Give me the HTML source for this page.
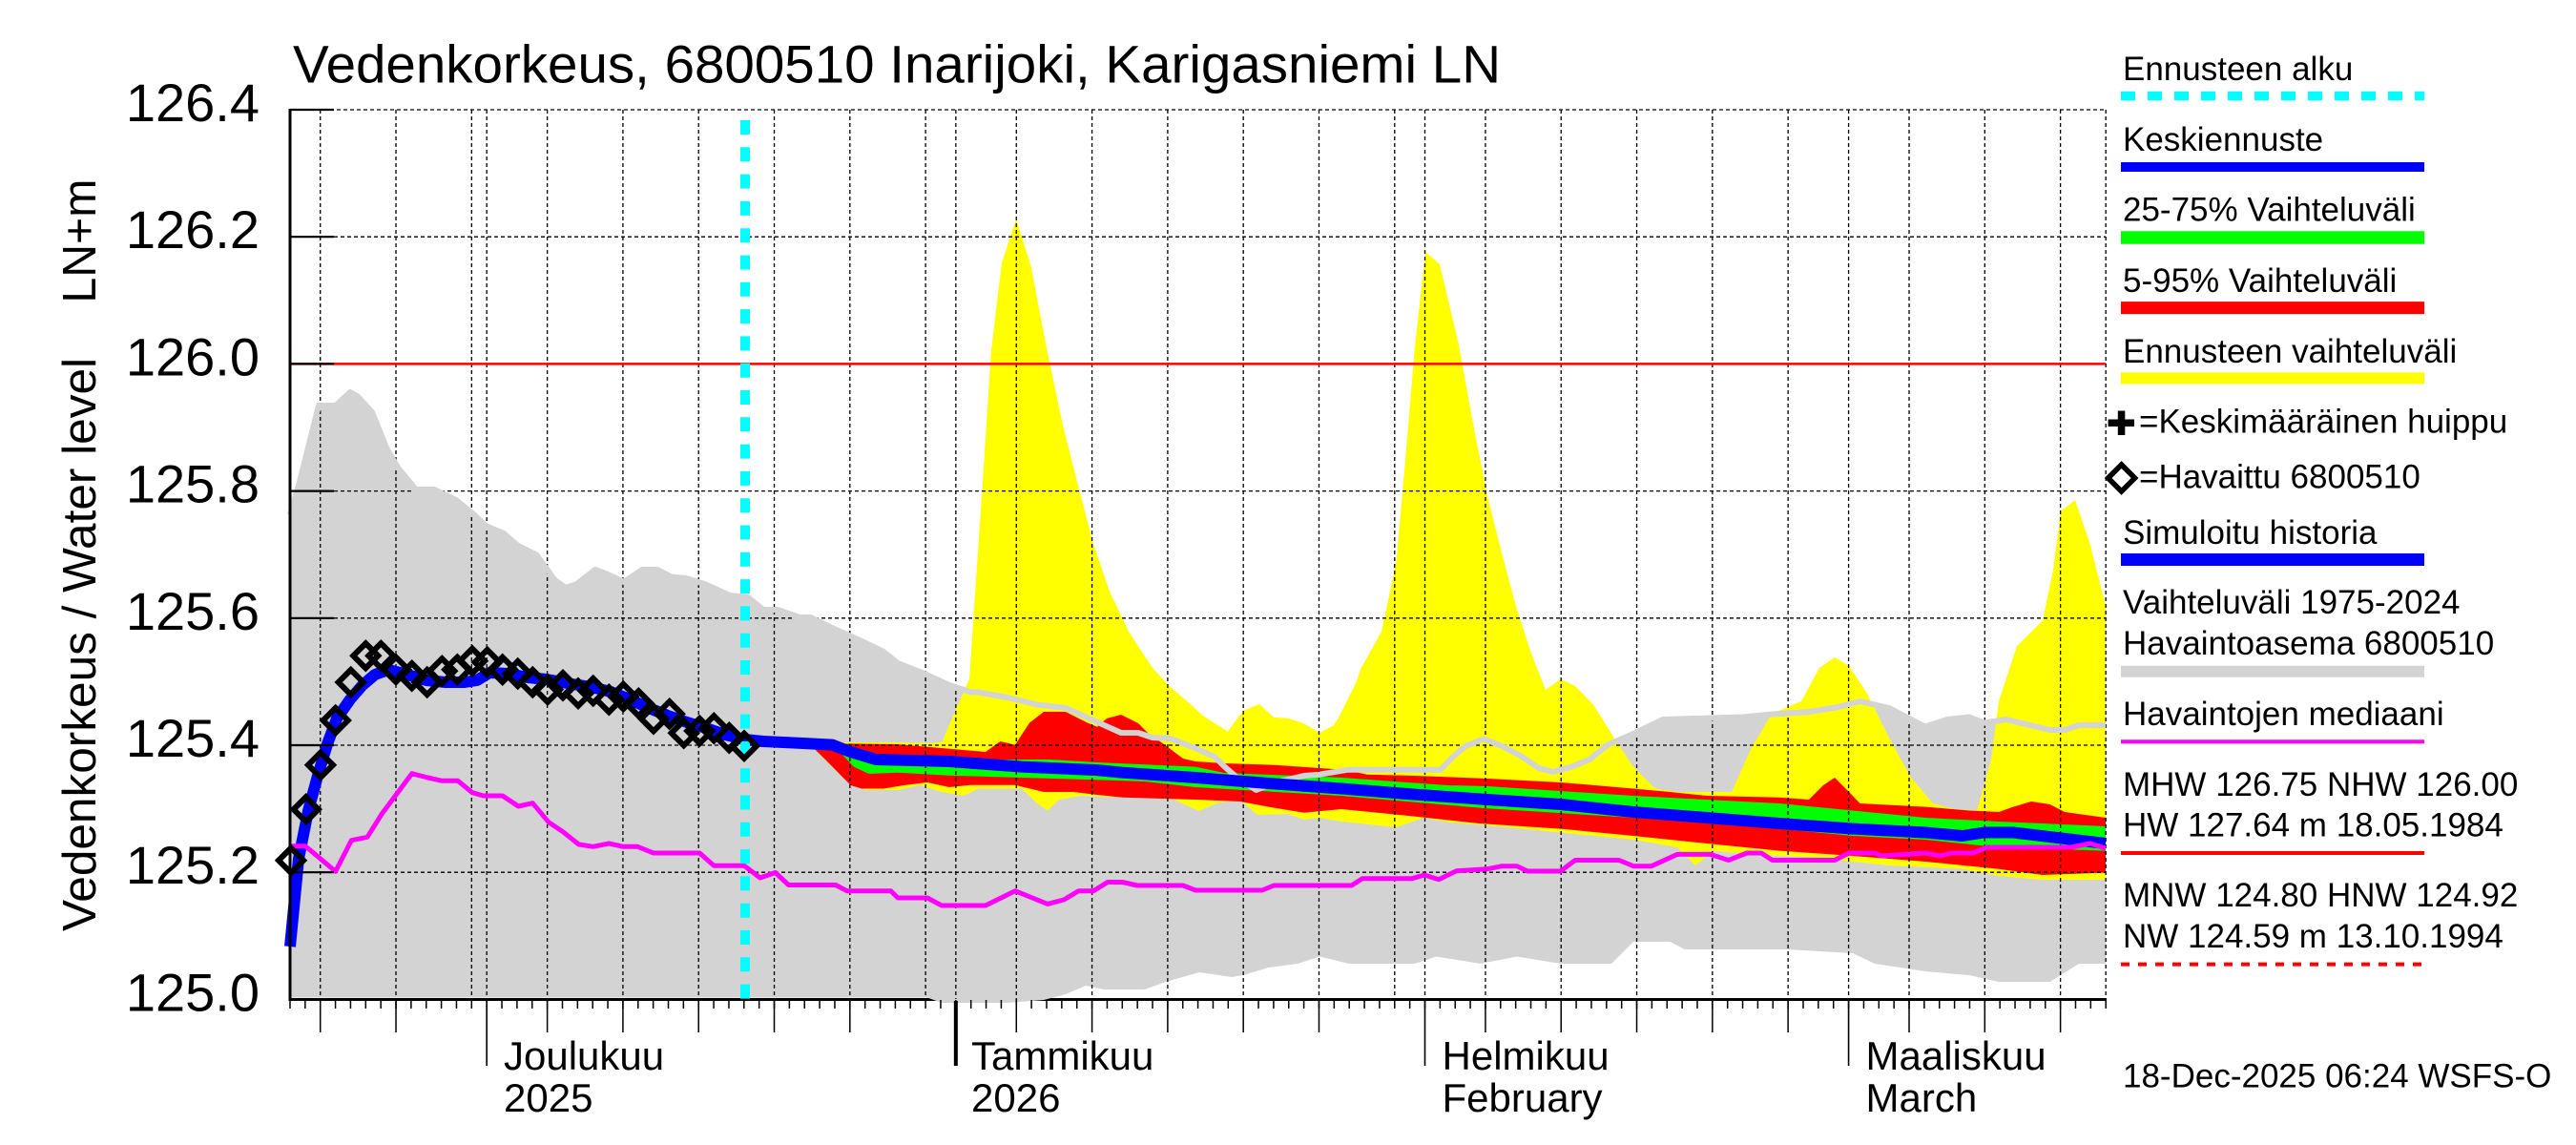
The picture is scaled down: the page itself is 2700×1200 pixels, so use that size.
<!DOCTYPE html>
<html><head><meta charset="utf-8"><style>
html,body{margin:0;padding:0;background:#fff}
svg{display:block}
text{font-family:"Liberation Sans",Arial,sans-serif;fill:#000}
</style></head><body>
<svg width="2700" height="1200" viewBox="0 0 2700 1200" xmlns="http://www.w3.org/2000/svg">
<rect x="0" y="0" width="2700" height="1200" fill="#fff"/>

<!-- bottom axis line (under gray fill) -->
<line x1="302.5" y1="1047.5" x2="2208" y2="1047.5" stroke="#000" stroke-width="3"/>

<!-- gray historical range fill -->
<polygon fill="#d3d3d3" points="304,539.5 314,505 334,425 352,425 367,411 375,415.5 390,432 405.6,470.6 417,490 436,513 455,513 478,524 497,539.5 509,551 528,559 543,572 562.5,581.6 581.6,608 593,616 604.6,612 623.7,597 635,601 654,610 673,597 689,597 704,604.6 719,606 738.5,612 765,624 784,626 800,639 815,639 838,647 849.5,647 872,658 899,670 926,683 941,695 968,705.6 995,718 1018,725.5 1025.5,725.5 1056,731 1087,738.5 1117,742 1150,756.7 1175,768 1193,768 1208,773 1226.7,774 1250,783 1273,793 1283,803 1296.7,815 1316.7,828 1336.7,820 1366.7,813 1383,811.7 1413,806.7 1510,806.7 1523,793 1536,782 1555,774.5 1574.5,782 1593.6,792 1613,805 1628,809 1647,803.6 1666,796 1685,780.6 1712,769 1743,754 1827,751.5 1857.6,748.5 1896,746 1926.5,741 1949.5,735 1980,742 2003,754 2018,761.5 2041,754 2064,751.5 2079.6,757.6 2102.5,754 2148.5,765 2164,765 2179,760 2207,760 2207,1010 2179,1010 2148.5,1029 2095,1029 2064,1022 2018,1018 1965,1010 1942,999 1873,995 1766,995 1750.5,987 1712,987 1689,1010 1635.7,1010 1590,1002.5 1551.5,1010 1505.6,1002.5 1482.6,1010 1414,1010 1383,1002.5 1360,1010 1329.6,1014 1303,1022 1291,1024 1257,1019 1222,1029 1199.5,1037 1157,1037 1138,1033 1117,1042 1094,1048 1056,1051 987,1051 972,1045.5 304,1045.5"/>

<!-- yellow forecast range -->
<polygon fill="#ffff00" points="780,777 849.5,778 940,778 970,779 987,778 1002.5,742 1016,711.7 1021.7,627.5 1029,520 1039,367 1050,275.5 1065,229.6 1080.6,279 1096,359.7 1113.5,443.9 1131,512.7 1146,570 1163,620 1183,662 1200,688 1208,700 1226.7,720 1250,740 1260.7,750 1286.7,766.7 1303,745 1320,738 1335,751.7 1350,752.7 1366.7,758.3 1383,768 1398,760 1402,754 1421.4,715.5 1426.7,700 1448,662 1463.5,589 1475,459 1482.6,367 1494,264 1509,277 1528.6,359.7 1544,444 1559,520 1574.5,581.6 1590,639 1605,685 1620,723 1635.7,711.7 1651,719 1670,738.5 1689,769 1712,803.6 1735,826.5 1760,830 1815,830 1835,785 1857,748 1888,735 1907,700 1923,689 1938,698 1957,727 1980,773 2003,815 2026,842 2049,848 2072,849.5 2087,796 2095,735 2114,677 2141,650.5 2152,597 2160,535.7 2175,524 2190.6,570 2207,635 2207,922 2141,922 2095,918 2057,910.7 1980,907 1903.6,899 1835,895.4 1796,891.6 1777,907 1758,888 1712,880 1635.7,872.5 1559,865 1520,862 1493,857 1463,867 1406,861 1383,857 1367,859 1350,853 1318,854 1299,838 1275,842 1256.7,850 1230,838 1200,836 1150,835 1133,834 1110,838 1098,849.5 1087,842 1071,826.5 1025.5,826.5 1010,834 987,830 964,822.7 941,828 907,828 887.7,819 849.5,781 780,777"/>

<!-- red 5-95% -->
<polygon fill="#ff0000" points="780,777 849.5,779 940,780 1033,788 1048.5,777 1064,780.6 1079,757.6 1094,746 1117,746 1140,757.6 1150,761.7 1160,753 1175,749 1193,758 1203,768 1220,780 1240,795 1253,798 1283,800 1336.7,801.7 1383,805 1410,806.7 1433,811.7 1482.6,813 1559,816 1635.7,820 1712,826.5 1750.5,830 1789,834 1865,835.7 1896,838 1911,823 1923,815 1938,830 1949.5,842 2018,845.6 2064,849.5 2095,851 2110,845.6 2129,840 2148.5,843 2164,851 2207,857 2207,914.5 2141,917 2095,910.7 2018,903 1942,897 1865,891.6 1789,884 1712,876 1635.7,868.6 1550,863 1482.6,855.6 1406,848 1366.7,851.7 1329.6,845.6 1300,840 1253,838 1176.5,835.7 1150,833 1125,830 1094,830 1064,822.7 1018,822.7 995,825 972,820 949,822.7 926,826.5 903,826.5 891.6,823 865,796 849.5,781 780,777"/>

<!-- green 25-75% -->
<polygon fill="#00ff00" points="780,777 849.5,779 880,784 895,788 918,792 995,796 1100,796 1150,799 1253,803.6 1283,810 1406,815 1516.7,823 1559,824 1712,834 1865,842 1942,849.5 2018,857 2095,861 2207,866 2207,891.6 2095,888 2018,880 1942,876 1865,868.6 1712,857 1555,847 1406,834 1253,825 1200,819 1148,817.3 1071,815 995,812.7 941,809.7 910.7,811 895,803.6 880,788 849.5,781 780,777"/>

<!-- grid -->
<g stroke="#000" stroke-width="1.3" stroke-dasharray="4,3" fill="none">
<path d="M304,115H2207 M350,248.2H2207 M350,514.6H2207 M350,647.8H2207 M350,781H2207 M350,914.2H2207 M350,381.4H2207"/>
<path d="M335.72,115V1047 M415.02,115V1047 M494.32,115V1047 M510.18,115V1047 M573.62,115V1047 M652.92,115V1047 M732.22,115V1047 M811.52,115V1047 M890.82,115V1047 M970.12,115V1047 M1001.84,115V1047 M1065.28,115V1047 M1144.58,115V1047 M1223.88,115V1047 M1303.18,115V1047 M1382.48,115V1047 M1461.78,115V1047 M1493.5,115V1047 M1556.94,115V1047 M1636.24,115V1047 M1715.54,115V1047 M1794.84,115V1047 M1874.14,115V1047 M1937.58,115V1047 M2001.02,115V1047 M2080.32,115V1047 M2159.62,115V1047 M2207.2,115V1047"/>
</g>

<!-- gray upper boundary line -->
<polyline fill="none" stroke="#d3d3d3" stroke-width="6" stroke-linejoin="round" points="304,539.5 314,505 334,425 352,425 367,411 375,415.5 390,432 405.6,470.6 417,490 436,513 455,513 478,524 497,539.5 509,551 528,559 543,572 562.5,581.6 581.6,608 593,616 604.6,612 623.7,597 635,601 654,610 673,597 689,597 704,604.6 719,606 738.5,612 765,624 784,626 800,639 815,639 838,647 849.5,647 872,658 899,670 926,683 941,695 968,705.6 995,718 1018,725.5 1025.5,725.5 1056,731 1087,738.5 1117,742 1150,756.7 1175,768 1193,768 1208,773 1226.7,774 1250,783 1273,793 1283,803 1296.7,815 1316.7,828 1336.7,820 1366.7,813 1383,811.7 1413,806.7 1510,806.7 1523,793 1536,782 1555,774.5 1574.5,782 1593.6,792 1613,805 1628,809 1647,803.6 1666,796 1685,780.6 1712,769 1743,754 1827,751.5 1857.6,748.5 1896,746 1926.5,741 1949.5,735 1980,742 2003,754 2018,761.5 2041,754 2064,751.5 2079.6,757.6 2102.5,754 2148.5,765 2164,765 2179,760 2207,760"/>

<!-- blue simulated + median forecast -->
<polyline fill="none" stroke="#0000ff" stroke-width="12" stroke-linejoin="round" points="304,992 313,900 323,850 333,813 343,780 353,753 367,733 380,718 393,707 407,702 427,707 447,713 467,715 487,715 500,713 513,705 533,706 553,710 573,712 600,717 620,720 640,725 660,733 680,742 700,750 720,757 740,763 760,770 780,775 800,777 842,779 872.5,780.6 891.6,788 918,796 995,798 1071,803.6 1148,807 1176.5,809.7 1253,815 1329.6,821 1406,826.5 1482.6,832.6 1559,838 1635.7,843 1712,851 1789,857 1865,863 1942,868.6 2018,872.5 2057,876 2079.6,872.5 2110,872.5 2207,884"/>

<!-- magenta median of observations -->
<polyline fill="none" stroke="#ff00ff" stroke-width="5" stroke-linejoin="round" points="303.3,886.7 320,886.7 351.7,913.3 368.3,880.7 385,877.3 400,853.3 431.7,810.7 448.3,815 463.3,818.3 480,818.3 495,830.7 506.7,834 526.7,834 543.3,845 558.3,841.7 575,861.7 590,871.7 606.7,885 621.7,887.3 638.3,884 653.3,887.3 668.3,887.3 685,894 733.3,894 748.3,907.3 780,907.3 796.7,920 812.7,914.5 826.5,927.5 876,927.5 887.7,933.7 933.7,933.7 941,941 972,941 987,949 1033,949 1064,933.7 1098,947.4 1115,943 1130.6,933.7 1146,933.7 1161,924.5 1176.5,924.5 1192,928 1240,928 1253,933 1323,933 1335,928 1416.7,928 1428,920.7 1480,920.7 1493,917 1508,921.7 1526.7,912.7 1559,910.7 1574.5,907.7 1590,907.7 1601,913 1635.7,913 1651,901.5 1697,901.5 1712,907.7 1731,907.7 1758,895.4 1792.6,895.4 1811.7,901.5 1831,894 1846,894 1857.6,901.5 1923,901.5 1938,894 1965,894 1972,897 2018,894 2034,897 2045,894 2068,894 2083,888 2171,888 2190.6,884 2207,889"/>

<!-- 126.0 red line -->
<line x1="304" y1="381.4" x2="2207" y2="381.4" stroke="#ff0000" stroke-width="2.5"/>

<!-- forecast start cyan -->
<line x1="781" y1="126" x2="781" y2="1047" stroke="#00ffff" stroke-width="10" stroke-dasharray="15,13.3"/>

<!-- observed diamonds -->
<path fill="none" stroke="#000" stroke-width="6" stroke-linejoin="miter" d="M305,888.7l13,13-13,13-13,-13z M320.7,835.3l13,13-13,13-13,-13z M336,788.7l13,13-13,13-13,-13z M351.7,742l13,13-13,13-13,-13z M367.7,702l13,13-13,13-13,-13z M383.3,674.3l13,13-13,13-13,-13z M399.3,674.3l13,13-13,13-13,-13z M415,688.7l13,13-13,13-13,-13z M431.7,695.3l13,13-13,13-13,-13z M447.7,702l13,13-13,13-13,-13z M463.3,690.3l13,13-13,13-13,-13z M479.3,688.7l13,13-13,13-13,-13z M495,679.7l13,13-13,13-13,-13z M510.7,681l13,13-13,13-13,-13z M526.7,688.7l13,13-13,13-13,-13z M542.7,693l13,13-13,13-13,-13z M558.3,702l13,13-13,13-13,-13z M574,709.7l13,13-13,13-13,-13z M590,705.3l13,13-13,13-13,-13z M606,713.7l13,13-13,13-13,-13z M621.7,711l13,13-13,13-13,-13z M638.3,720.3l13,13-13,13-13,-13z M653.3,717l13,13-13,13-13,-13z M669.3,724.3l13,13-13,13-13,-13z M685,740.3l13,13-13,13-13,-13z M701.7,735.3l13,13-13,13-13,-13z M716.7,755.3l13,13-13,13-13,-13z M733.3,753l13,13-13,13-13,-13z M748.3,750.3l13,13-13,13-13,-13z M764.3,760.3l13,13-13,13-13,-13z M780,768.7l13,13-13,13-13,-13z"/>

<!-- axes -->
<line x1="304" y1="114" x2="304" y2="1049" stroke="#000" stroke-width="3"/>
<path stroke="#000" stroke-width="2.2" fill="none" d="M304,115H350 M304,248.2H350 M304,381.4H350 M304,514.6H350 M304,647.8H350 M304,781H350 M304,914.2H350 M304,1047.4H350"/>
<!-- daily ticks -->
<line x1="303.25" y1="1052.5" x2="2208.5" y2="1052.5" stroke="#000" stroke-width="9" stroke-dasharray="1.5,14.36"/>
<!-- 5-day ticks -->
<path stroke="#000" stroke-width="1.5" fill="none" d="M335.72,1047V1082 M415.02,1047V1082 M573.62,1047V1082 M652.92,1047V1082 M732.22,1047V1082 M811.52,1047V1082 M890.82,1047V1082 M1065.28,1047V1082 M1144.58,1047V1082 M1223.88,1047V1082 M1303.18,1047V1082 M1382.48,1047V1082 M1556.94,1047V1082 M1636.24,1047V1082 M1715.54,1047V1082 M1794.84,1047V1082 M1874.14,1047V1082 M2001.02,1047V1082 M2080.32,1047V1082 M2159.62,1047V1082"/>
<!-- month ticks -->
<path stroke="#000" stroke-width="1.6" fill="none" d="M510.18,1047V1117 M1493.5,1047V1117 M1937.58,1047V1117"/>
<line x1="1001.84" y1="1049" x2="1001.84" y2="1117" stroke="#000" stroke-width="4"/>

<!-- title -->
<text x="307" y="86.5" font-size="56" textLength="1266" lengthAdjust="spacingAndGlyphs">Vedenkorkeus, 6800510 Inarijoki, Karigasniemi LN</text>

<!-- y tick labels -->
<g font-size="56" text-anchor="end">
<text x="272" y="127">126.4</text>
<text x="272" y="260.2">126.2</text>
<text x="272" y="393.4">126.0</text>
<text x="272" y="526.6">125.8</text>
<text x="272" y="659.8">125.6</text>
<text x="272" y="793">125.4</text>
<text x="272" y="926.2">125.2</text>
<text x="272" y="1059.4">125.0</text>
</g>

<!-- y axis titles -->
<text transform="translate(100,976) rotate(-90)" font-size="49" textLength="601" lengthAdjust="spacingAndGlyphs">Vedenkorkeus / Water level</text>
<text transform="translate(100,317.6) rotate(-90)" font-size="49" textLength="130" lengthAdjust="spacingAndGlyphs">LN+m</text>

<!-- x labels -->
<g font-size="42">
<text x="528" y="1121">Joulukuu</text>
<text x="528" y="1165">2025</text>
<text x="1018" y="1121">Tammikuu</text>
<text x="1018" y="1165">2026</text>
<text x="1511.5" y="1121">Helmikuu</text>
<text x="1511.5" y="1165">February</text>
<text x="1955.5" y="1121">Maaliskuu</text>
<text x="1955.5" y="1165">March</text>
</g>

<!-- legend -->
<g font-size="35">
<text x="2225" y="84.2">Ennusteen alku</text>
<line x1="2223" y1="100.5" x2="2541" y2="100.5" stroke="#00ffff" stroke-width="9.5" stroke-dasharray="15,13"/>
<text x="2225" y="158">Keskiennuste</text>
<line x1="2223" y1="175" x2="2541" y2="175" stroke="#0000ff" stroke-width="10"/>
<text x="2225" y="231.5">25-75% Vaihteluväli</text>
<line x1="2223" y1="249" x2="2541" y2="249" stroke="#00ff00" stroke-width="13.5"/>
<text x="2225" y="306">5-95% Vaihteluväli</text>
<line x1="2223" y1="322.6" x2="2541" y2="322.6" stroke="#ff0000" stroke-width="13"/>
<text x="2225" y="380">Ennusteen vaihteluväli</text>
<line x1="2223" y1="396.4" x2="2541" y2="396.4" stroke="#ffff00" stroke-width="12"/>
<rect x="2209.6" y="439.5" width="27.4" height="7.5" fill="#000"/>
<rect x="2219.8" y="430.5" width="7.5" height="25.5" fill="#000"/>
<text x="2242" y="453.5">=Keskimääräinen huippu</text>
<path d="M2223.6,487 l14,14 -14,14 -14,-14z" fill="none" stroke="#000" stroke-width="5.5"/>
<text x="2242" y="511.7">=Havaittu 6800510</text>
<text x="2225" y="570">Simuloitu historia</text>
<line x1="2223" y1="586.5" x2="2541" y2="586.5" stroke="#0000ff" stroke-width="13"/>
<text x="2225" y="643">Vaihteluväli 1975-2024</text>
<text x="2225" y="686">Havaintoasema 6800510</text>
<line x1="2223" y1="703.7" x2="2541" y2="703.7" stroke="#d3d3d3" stroke-width="12"/>
<text x="2225" y="760">Havaintojen mediaani</text>
<line x1="2223" y1="777.2" x2="2541" y2="777.2" stroke="#ff00ff" stroke-width="4"/>
<text x="2225" y="834.2">MHW 126.75 NHW 126.00</text>
<text x="2225" y="876.3">HW 127.64 m 18.05.1984</text>
<line x1="2223" y1="894" x2="2541" y2="894" stroke="#ff0000" stroke-width="4"/>
<text x="2225" y="950.2">MNW 124.80 HNW 124.92</text>
<text x="2225" y="993">NW 124.59 m 13.10.1994</text>
<line x1="2223" y1="1010.6" x2="2541" y2="1010.6" stroke="#ff0000" stroke-width="4" stroke-dasharray="9,9"/>
<text x="2225" y="1139.6">18-Dec-2025 06:24 WSFS-O</text>
</g>
</svg>
</body></html>
